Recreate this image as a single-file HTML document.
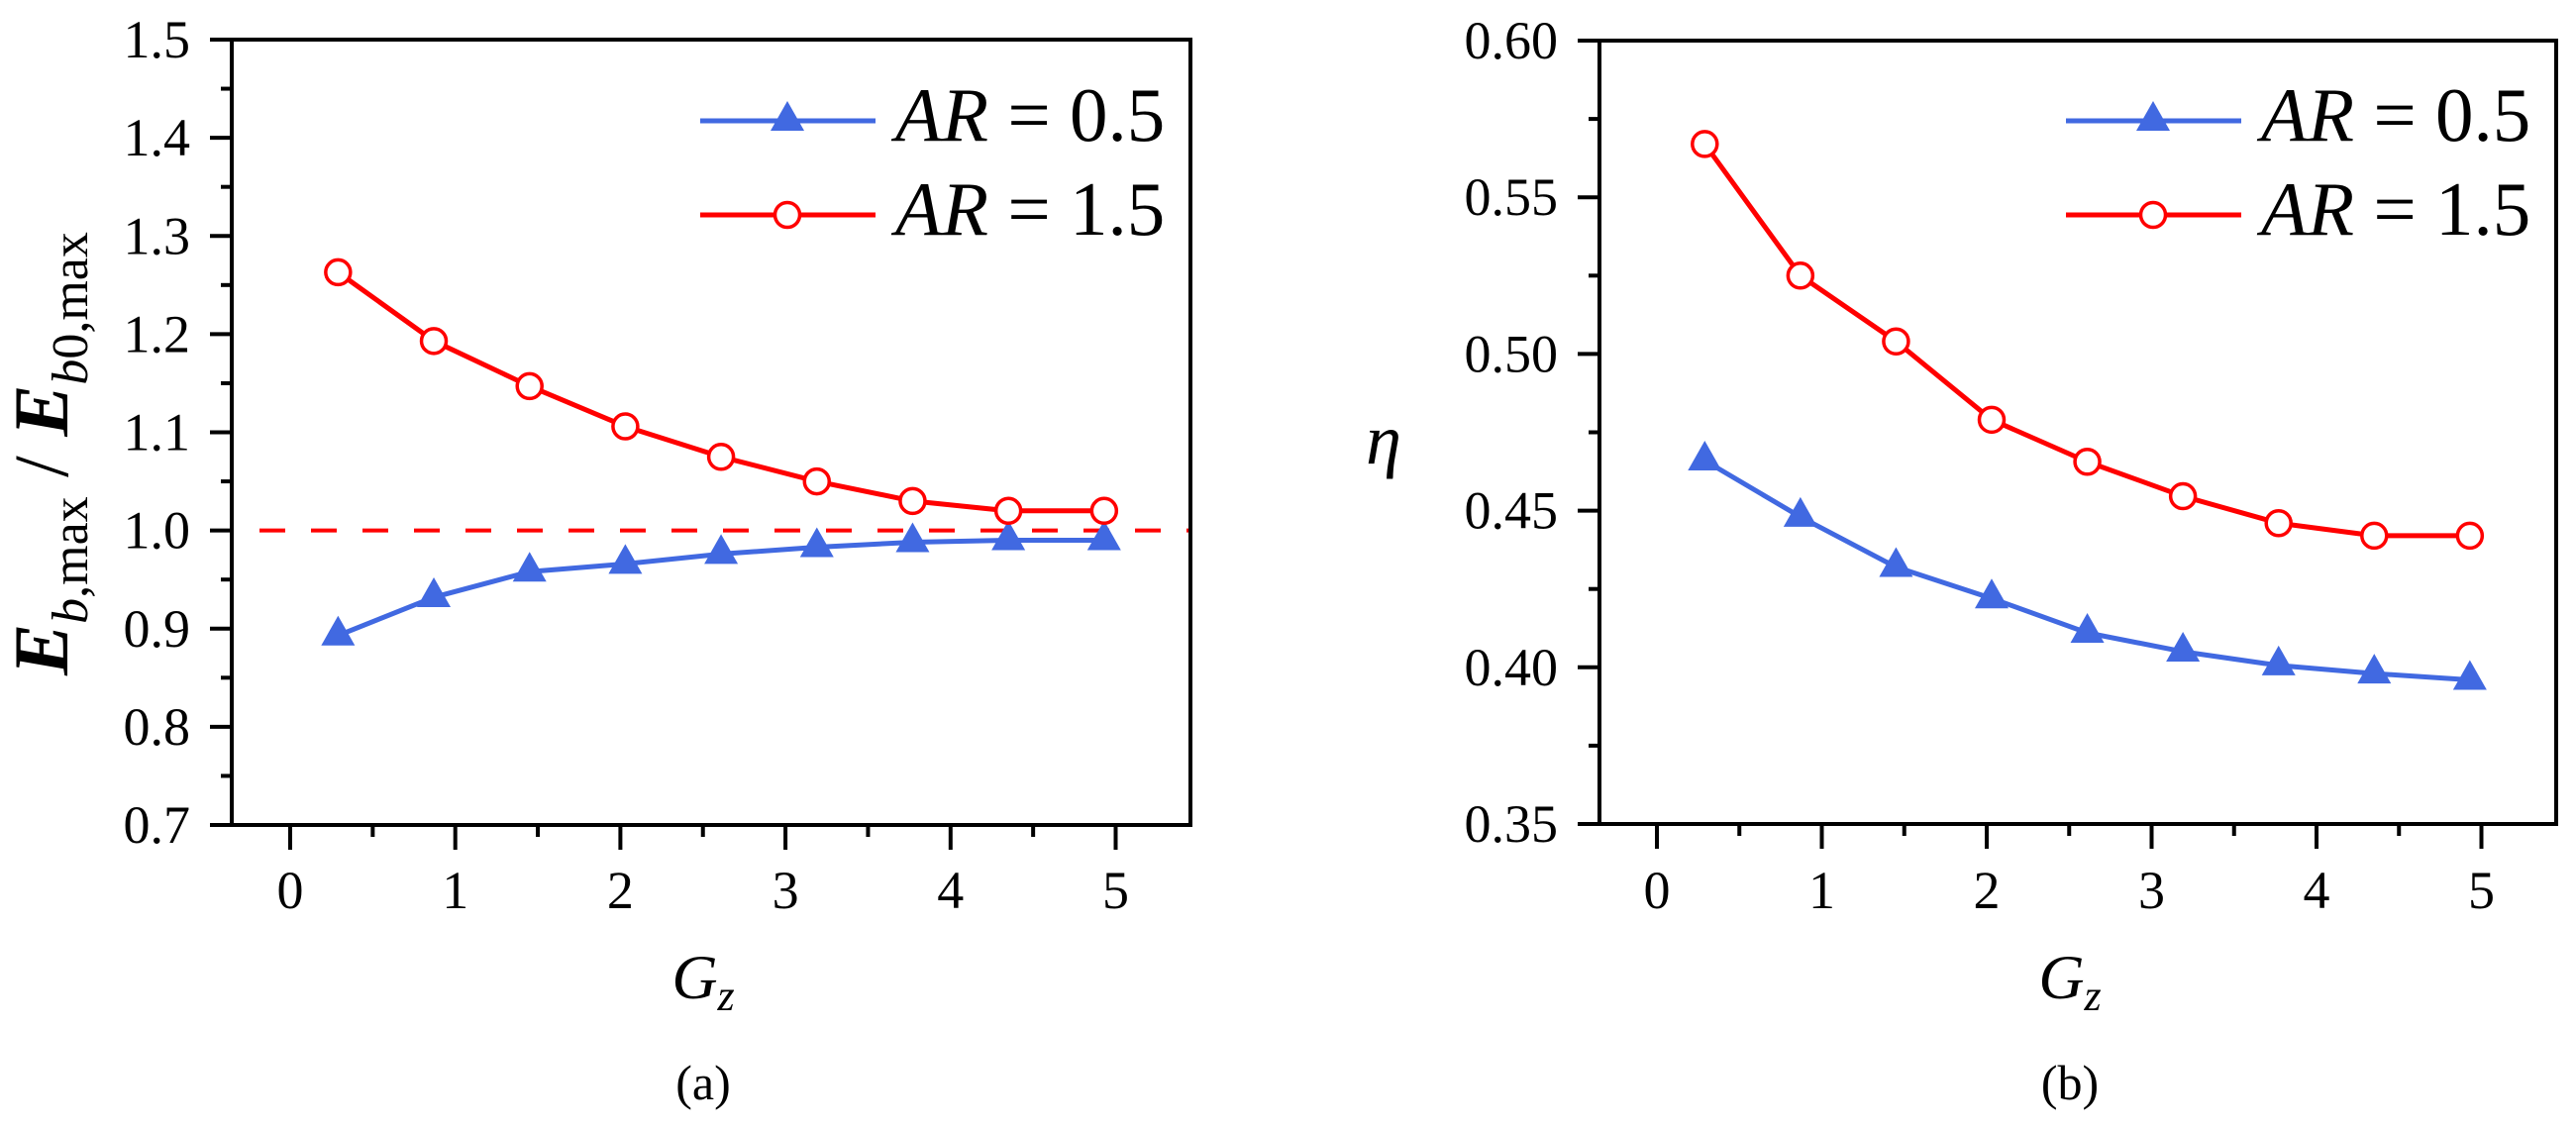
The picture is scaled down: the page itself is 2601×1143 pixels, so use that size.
<!DOCTYPE html>
<html><head><meta charset="utf-8"><style>
html,body{margin:0;padding:0;background:#fff;}
svg{display:block;}
svg text{font-family:"Liberation Serif","Times New Roman",Times,serif;}
</style></head><body>
<svg id="fig" width="2601" height="1143" viewBox="0 0 2601 1143" xmlns="http://www.w3.org/2000/svg" font-family="Liberation Serif, Times New Roman, serif"></svg>
<script>
const gz = [0.29, 0.87, 1.45, 2.03, 2.61, 3.19, 3.77, 4.35, 4.93];
const aRed = [1.263, 1.193, 1.147, 1.106, 1.075, 1.050, 1.030, 1.020, 1.020];
const aBlue = [0.893, 0.932, 0.958, 0.966, 0.976, 0.983, 0.988, 0.990, 0.990];
const bRed = [0.567, 0.525, 0.504, 0.479, 0.4656, 0.4546, 0.446, 0.442, 0.442];
const bBlue = [0.466, 0.448, 0.432, 0.422, 0.411, 0.405, 0.4006, 0.398, 0.396];
const aYTicks = ["0.7","0.8","0.9","1.0","1.1","1.2","1.3","1.4","1.5"];
const bYTicks = ["0.35","0.40","0.45","0.50","0.55","0.60"];
const xTicks = ["0","1","2","3","4","5"];
const refLine = [1.0];

const NS="http://www.w3.org/2000/svg";
const FF="Liberation Serif, Times New Roman, serif";
const svg=document.getElementById('fig');
function mk(tag,attrs,parent){const e=document.createElementNS(NS,tag);for(const k in attrs)e.setAttribute(k,attrs[k]);if(tag==='text')e.setAttribute('font-family',FF);(parent||svg).appendChild(e);return e;}

function panel(o){
  const g=mk('g',{});
  
  
  const X=v=>o.x0+(v-0)*o.xs, Y=v=>o.bottom-(v-o.ymin)/(o.ymax-o.ymin)*(o.bottom-o.top);
  const fr=mk('rect',{x:o.left,y:o.top,width:o.right-o.left,height:o.bottom-o.top,fill:'none',stroke:'#000','stroke-width':4},g);
  
  
  const yt=o.yTicks;
  for(let i=0;i<yt.length;i++){
    const v=parseFloat(yt[i]), y=Y(v);
    const t=mk('line',{x1:o.left-22,x2:o.left,y1:y,y2:y,stroke:'#000','stroke-width':4},g);
    
    
    const lb=mk('text',{x:o.left-42,y:y+18,'font-size':54,'text-anchor':'end'},g);
    lb.textContent=yt[i];
    
    
    if(i<yt.length-1){
      const m=Y(v+o.ystep/2);
      const mt=mk('line',{x1:o.left-11,x2:o.left,y1:m,y2:m,stroke:'#000','stroke-width':4},g);
      
      
    }
  }
  for(let i=0;i<xTicks.length;i++){
    const v=parseFloat(xTicks[i]), x=X(v);
    const t=mk('line',{x1:x,x2:x,y1:o.bottom,y2:o.bottom+25,stroke:'#000','stroke-width':4},g);
    
    
    const lb=mk('text',{x:x,y:917,'font-size':54,'text-anchor':'middle'},g);
    lb.textContent=xTicks[i];
    
    
    const m=X(v+0.5);
    if(m<o.right){
      const mt=mk('line',{x1:m,x2:m,y1:o.bottom,y2:o.bottom+12,stroke:'#000','stroke-width':4},g);
      
      
    }
  }
  if(o.ref){
    const rl=mk('line',{x1:o.left+2,x2:o.right-2,y1:Y(o.ref[0]),y2:Y(o.ref[0]),stroke:'#ff0000','stroke-width':4,'stroke-dasharray':'26 26','stroke-dashoffset':'-26'},g);
    
    
  }
  function series(vals,color,marker,nm){
    const sg=mk('g',{},g);
    
    
    const pts=gz.map((x,i)=>X(x)+','+Y(vals[i])).join(' ');
    const pl=mk('polyline',{points:pts,fill:'none',stroke:color,'stroke-width':5,'stroke-linejoin':'round'},sg);
    
    
    gz.forEach((x,i)=>{drawMarker(sg,marker,X(x),Y(vals[i]),color);});
  }
  series(o.blue,'#4169e1','tri','series-ar-0.5');
  series(o.red,'#ff0000','circ','series-ar-1.5');
  const lg=mk('g',{},g);
  
  
  const lx=o.right-495;
  [['tri','#4169e1','0.5',122],['circ','#ff0000','1.5',217]].forEach(([mk_,c,val,y])=>{
    const eg=mk('g',{},lg);
    
    
    mk('line',{x1:lx,x2:lx+177,y1:y,y2:y,stroke:c,'stroke-width':5},eg);
    drawMarker(eg,mk_,lx+88,y,c);
    const t=mk('text',{x:lx+197,y:y+20,'font-size':77},eg);
    t.innerHTML='<tspan font-style="italic">AR</tspan> = '+val;
  });
  return {X,Y,g};
}
function drawMarker(parent,type,x,y,c){
  let m;
  if(type==='tri'){
    m=mk('polygon',{points:`${x},${y-20} ${x-17},${y+10} ${x+17},${y+10}`,fill:c},parent);
  } else {
    m=mk('circle',{cx:x,cy:y,r:12.5,fill:'#fff',stroke:c,'stroke-width':3.5},parent);
  }
  
  
}

panel({name:'panel-a',left:234,right:1202,top:40,bottom:833,x0:293,xs:166.7,ymin:0.7,ymax:1.5,ystep:0.1,yTicks:aYTicks,red:aRed,blue:aBlue,ref:refLine});
panel({name:'panel-b',left:1615,right:2581,top:41,bottom:832,x0:1673,xs:166.5,ymin:0.35,ymax:0.60,ystep:0.05,yTicks:bYTicks,red:bRed,blue:bBlue});

function txt(attrs,html,name){const t=mk('text',attrs);t.innerHTML=html;return t;}
txt({x:0,y:0,transform:'translate(68,458) rotate(-90)','text-anchor':'middle','font-size':78},
 '<tspan font-style="italic" font-weight="bold">E</tspan><tspan font-size="52" dy="20"><tspan font-style="italic">b</tspan>,max</tspan><tspan dy="-20"> / </tspan><tspan font-style="italic" font-weight="bold">E</tspan><tspan font-size="52" dy="20"><tspan font-style="italic">b</tspan>0,max</tspan>','y-axis-title-a');
txt({x:1397,y:468,'text-anchor':'middle','font-size':72,'font-style':'italic'},'η','y-axis-title-b');
txt({x:710,y:1008,'text-anchor':'middle','font-size':64,'font-style':'italic'},'G<tspan font-size="44" dy="12">z</tspan>','x-axis-title-a');
txt({x:2090,y:1008,'text-anchor':'middle','font-size':64,'font-style':'italic'},'G<tspan font-size="44" dy="12">z</tspan>','x-axis-title-b');
txt({x:710,y:1110,'text-anchor':'middle','font-size':50},'(a)','caption-a');
txt({x:2090,y:1110,'text-anchor':'middle','font-size':50},'(b)','caption-b');
</script>
</body></html>
